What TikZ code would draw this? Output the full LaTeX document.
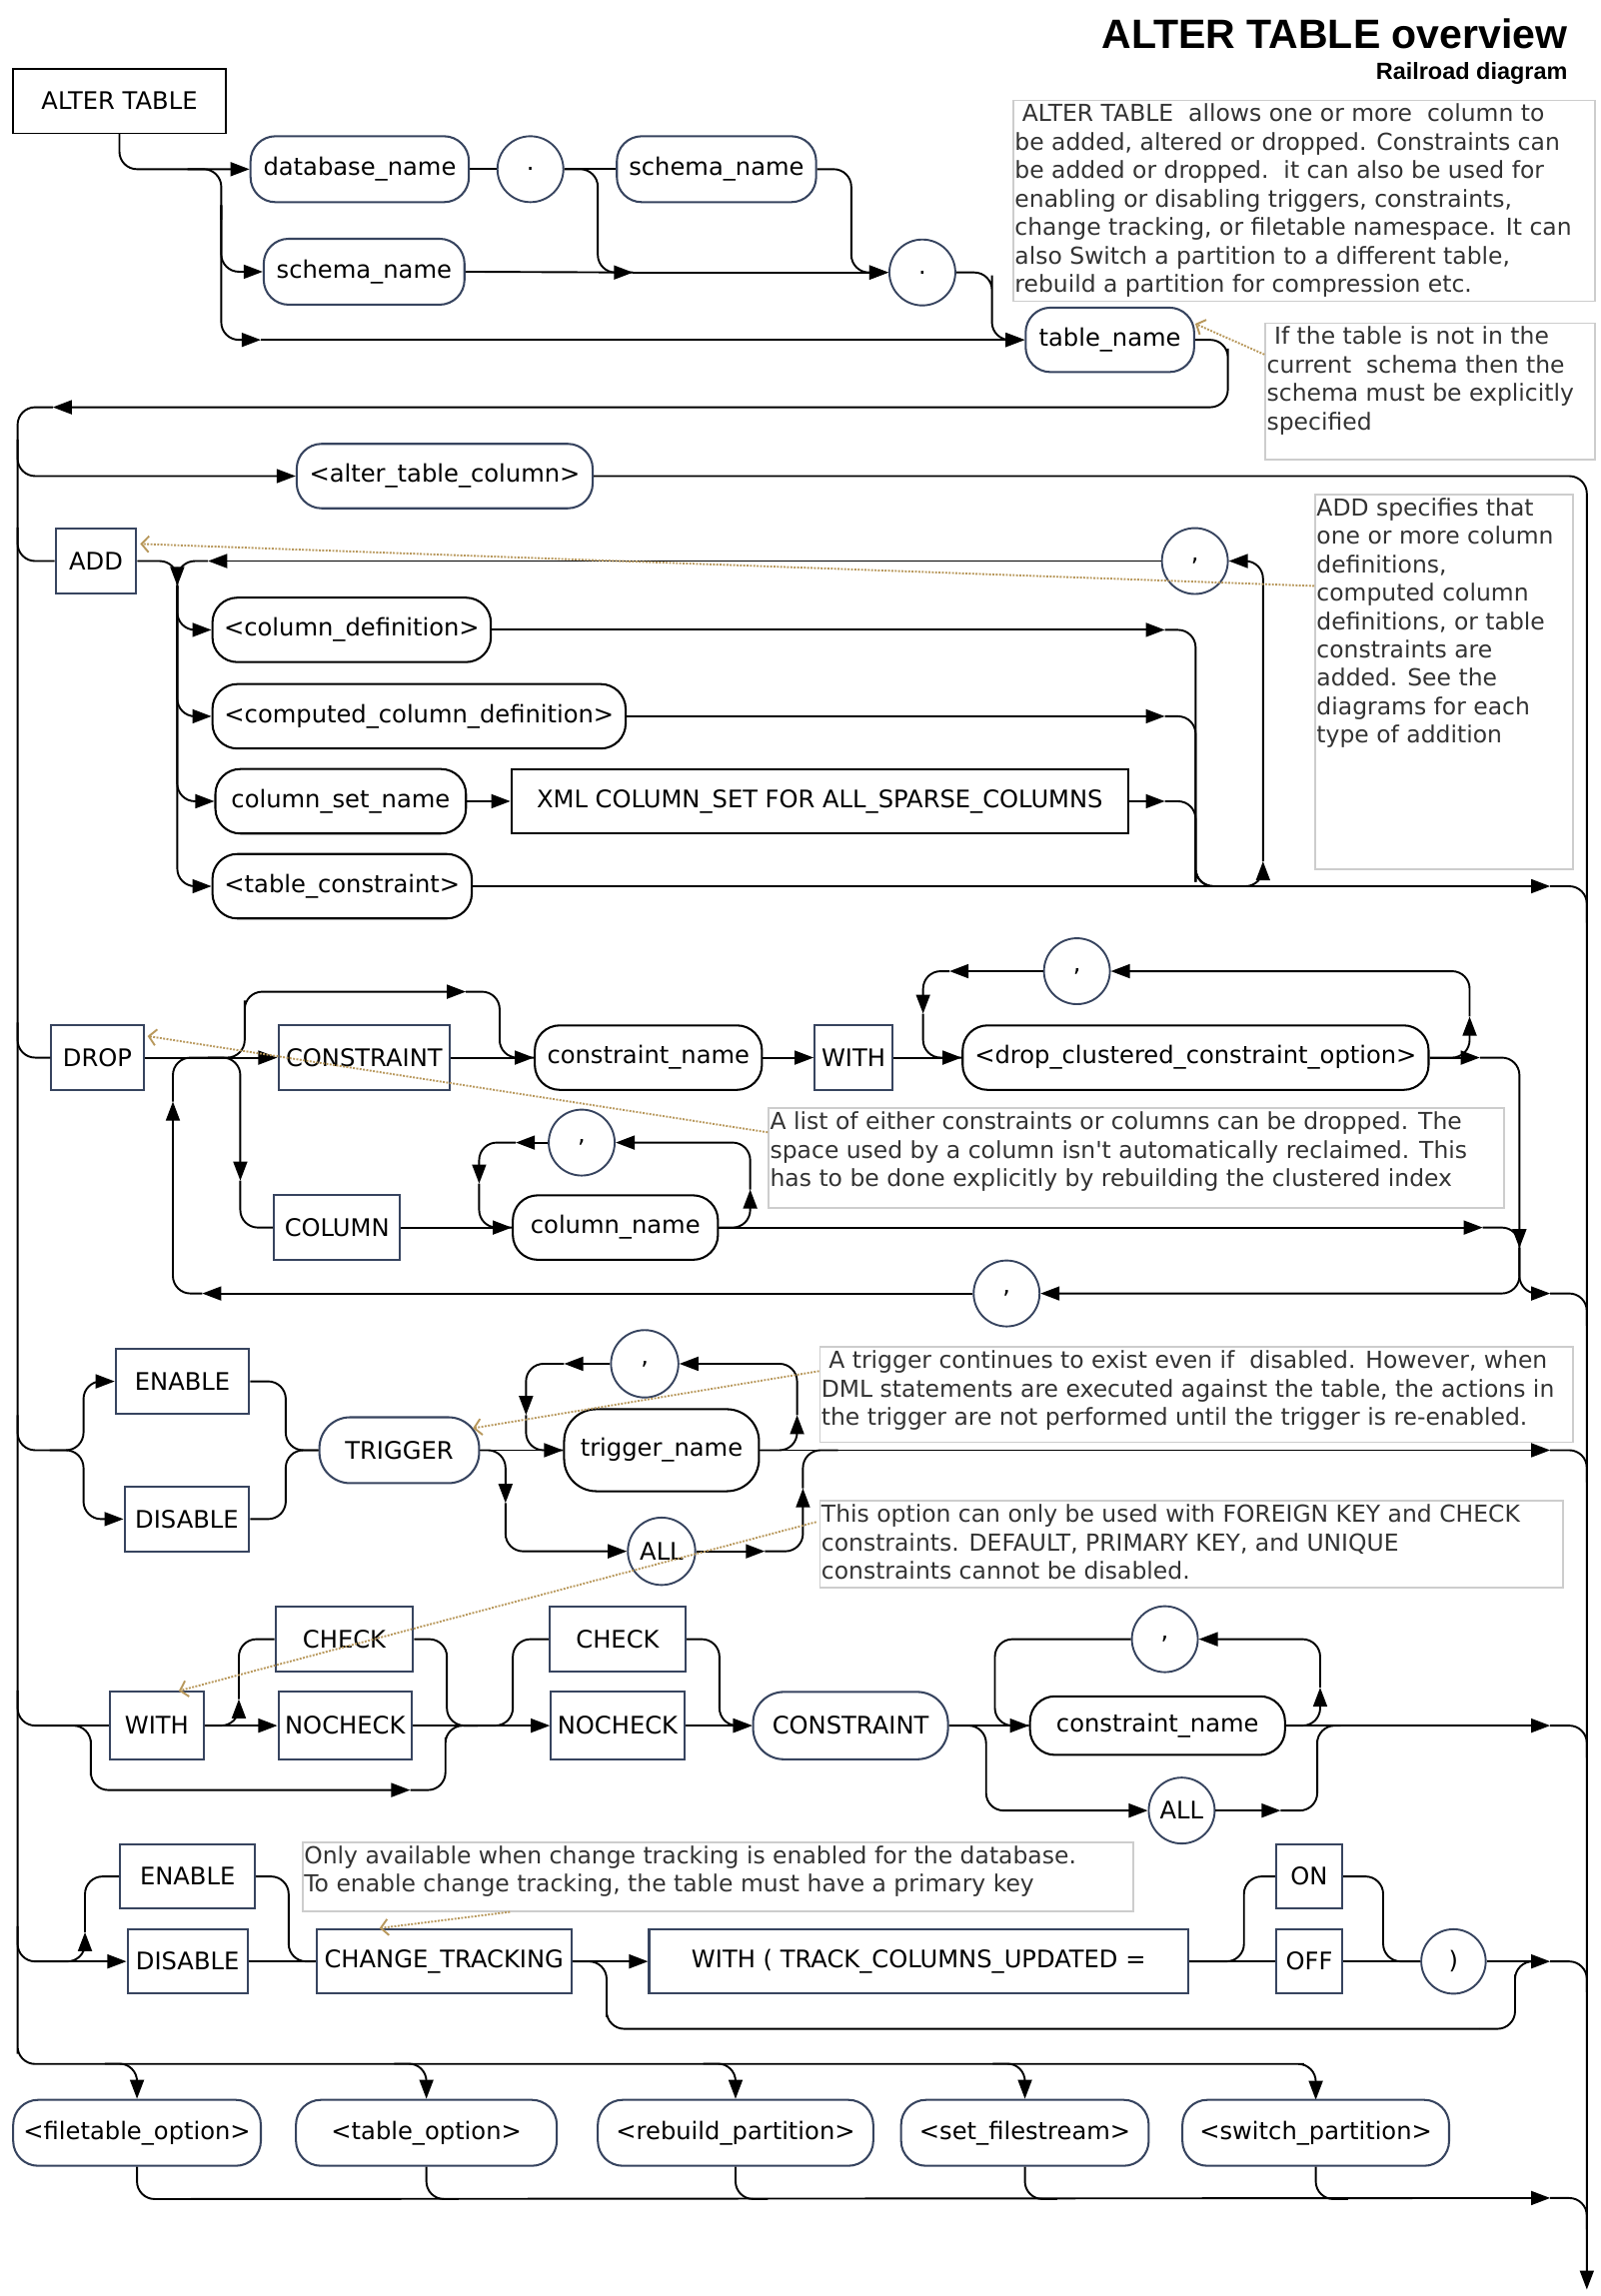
\documentclass[tikz,border=0pt]{standalone}
\usepackage{fontspec}
\setmainfont{DejaVu Sans}
\newfontfamily\headfont{Liberation Sans}
\newfontfamily\notefont{DejaVu Sans}
\usetikzlibrary{arrows.meta,calc}
\definecolor{slate}{RGB}{55,68,95}
\definecolor{notegray}{RGB}{205,205,205}
\definecolor{pointertan}{RGB}{184,152,92}
\newcommand{\notetext}[3]{\parbox[t][#2][t]{#1}{\notefont\fontsize{16}{19.4}\selectfont\begin{tabular}[t]{@{}l@{}}#3\end{tabular}}}

\begin{document}
\begin{tikzpicture}[x=1pt,y=-1pt,
    every node/.style={font=\fontsize{16.5}{19}\selectfont, text=black},
    kw/.style={draw=slate, line width=1.4pt, rectangle, minimum height=44pt, inner sep=2pt},
    ref/.style={kw, rounded corners=17pt},
    punct/.style={draw=slate, line width=1.3pt, circle, minimum size=45pt, inner sep=0pt},
    rail/.style={line width=1.3pt, rounded corners=12pt},
    flow/.style={rail, -{Triangle[length=13pt,width=9.5pt]}},
    note/.style={draw=notegray, line width=1.2pt, anchor=north west, inner sep=1pt, text=black!80},
    pointer/.style={draw=pointertan, densely dotted, line width=1.3pt, -{Straight Barb[length=5pt,width=11pt]}}]

    \useasboundingbox (0,0) rectangle (1092,1567.4);

    \node[anchor=base east, inner sep=0pt, font=\headfont\bfseries\fontsize{28}{32}\selectfont] (title) at (1070,33) {ALTER TABLE overview};
    \node[anchor=base east, inner sep=0pt, font=\headfont\bfseries\fontsize{16}{19}\selectfont] (subtitle) at (1070,54) {Railroad diagram};

    % table name
    \node[kw, draw=black, line width=1pt, minimum width=145pt] (alter) at (81.5,69) {ALTER TABLE};
    \node[ref, minimum width=149pt, minimum height=45pt] (dbname) at (245.5,115.5) {database\_name};
    \node[punct] (dotA) at (362,115.5) {.};
    \node[ref, minimum width=136pt, minimum height=45pt] (schemaA) at (489,115.5) {schema\_name};
    \node[ref, minimum width=137pt, minimum height=45pt] (schemaB) at (248.5,185.5) {schema\_name};
    \node[punct] (dotB) at (629.5,186) {.};
    \node[ref, minimum width=115pt] (tblname) at (757.5,232) {table\_name};

    \draw[flow] (alter.south) |- (dbname.west);
    \draw[rail] (128,115.5) -| (151,150);
    \draw[flow] (151,140) |- (schemaB.west);
    \draw[flow] (151,140) |- (178,232);
    \draw[flow] (178,232) -- (tblname.west);
    \draw[rail] (dbname.east) -- (dotA.west);
    \draw[rail] (dotA.east) -- (schemaA.west);
    \draw[flow] (dotA.east) -| (408,150) |- (432,186);
    \draw[rail] (schemaB.east) -- (432,186);
    \draw[flow] (432,186) -- (dotB.west);
    \draw[flow] (schemaA.east) -| (581,150) |- (dotB.west);
    \draw[flow] (dotB.east) -| (677,200) |- (tblname.west);
    \draw[flow] (tblname.east) -| (838,250) |- (36,278);

    % the two rails
    \draw[flow] (36,278) -| (12,1390) |- (878,1409) -| (898,1433.5);
    \node[ref, minimum width=202pt] (atc) at (303.5,325) {<alter\_table\_column>};
    \draw[flow] (12,300) |- (atc.west);
    \draw[flow] (atc.east) -| (1083,1563);

    % ADD
    \node[kw, minimum width=55pt] (add) at (65.5,383) {ADD};
    \node[punct] (comma1) at (815.5,383) {,};
    \node[ref, draw=black, minimum width=190pt] (coldef) at (240,430) {<column\_definition>};
    \node[ref, draw=black, minimum width=282pt] (compdef) at (286,489) {<computed\_column\_definition>};
    \node[ref, draw=black, minimum width=171pt] (colset) at (232.5,547) {column\_set\_name};
    \node[kw, draw=black, minimum width=421pt] (xmlset) at (559.5,547) {XML COLUMN\_SET FOR ALL\_SPARSE\_COLUMNS};
    \node[ref, draw=black, minimum width=177pt] (tblcon) at (233.5,605) {<table\_constraint>};

    \draw[rail] (12,360) |- (add.west);
    \draw[rail] (add.east) -| (121,402);
    \draw[flow] (comma1.west) -- (142,383);
    \draw[flow] (142,383) -| (121,400);
    \foreach \n in {coldef,compdef,colset,tblcon}
        \draw[flow] (121,400) |- (\n.west);
    \draw[flow] (colset.east) -- (xmlset.west);
    \foreach \n/\y in {coldef/430,compdef/489,xmlset/547} {
        \draw[flow] (\n.east) -- (795,\y);
        \draw[rail] (795,\y) -| (816,590) |- (840,605);
    }
    \draw[flow] (840,605) -| (862,588);
    \draw[flow] (862,588) |- (comma1.east);
    \draw[flow] (tblcon.east) -- (1058,605);
    \draw[rail] (1058,605) -| (1083,630);

    % DROP
    \node[kw, minimum width=63pt] (drop) at (66.5,722) {DROP};
    \node[kw, minimum width=117pt] (constrA) at (248.5,722) {CONSTRAINT};
    \node[ref, draw=black, minimum width=155pt] (cnameA) at (442.5,722) {constraint\_name};
    \node[kw, minimum width=53pt] (withA) at (582.5,722) {WITH};
    \node[ref, draw=black, minimum width=318pt] (dcco) at (816,722) {<drop\_clustered\_constraint\_option>};
    \node[punct] (commaA) at (735,663) {,};
    \node[kw, minimum width=86pt] (colA) at (230,838) {COLUMN};
    \node[ref, draw=black, minimum width=140pt] (colname) at (420,838) {column\_name};
    \node[punct] (commaB) at (397,780) {,};
    \node[punct] (commaC) at (687,883) {,};

    \draw[rail] (12,698) |- (drop.west);
    \draw[flow] (drop.east) -- (constrA.west);
    \draw[flow] (142,722) -| (167,695) |- (318,677);
    \draw[rail] (318,677) -| (341,700) |- (cnameA.west);
    \draw[flow] (constrA.east) -- (cnameA.west);
    \draw[flow] (cnameA.east) -- (withA.west);
    \draw[flow] (withA.east) -- (dcco.west);
    \draw[flow] (dcco.east) -| (1003,694);
    \draw[flow] (1003,694) |- (commaA.east);
    \draw[flow] (commaA.west) -- (648,663);
    \draw[flow] (648,663) -| (630,692);
    \draw[rail] (630,692) |- (dcco.west);
    \draw[flow] (dcco.east) -- (1010,722);
    \draw[flow] (1010,722) -| (1037,852);
    \draw[flow] (1037,852) |- (1058,883);
    \draw[rail] (1058,883) -| (1083,905);
    \draw[flow] (1037,852) |- (commaC.east);
    \draw[flow] (commaC.west) -- (138,883);
    \draw[flow] (138,883) -| (118,752);
    \draw[rail] (118,752) |- (142,722);
    \draw[flow] (142,722) -| (164,806);
    \draw[rail] (164,806) |- (colA.west);
    \draw[flow] (colA.east) -- (colname.west);
    \draw[flow] (colname.east) -| (512,812);
    \draw[flow] (512,812) |- (commaB.east);
    \draw[flow] (commaB.west) -- (352,780);
    \draw[flow] (352,780) -| (327,808);
    \draw[rail] (327,808) |- (colname.west);
    \draw[flow] (colname.east) -- (1012,838);
    \draw[rail] (1012,838) -| (1037,852);

    % ENABLE / DISABLE TRIGGER
    \node[kw, minimum width=91pt] (enableA) at (124.5,943) {ENABLE};
    \node[kw, minimum width=85pt] (disableA) at (127.5,1037) {DISABLE};
    \node[ref, minimum width=109pt, minimum height=45pt, rounded corners=21pt] (trigger) at (272.5,990) {TRIGGER};
    \node[ref, draw=black, minimum width=133pt, minimum height=56pt, rounded corners=22pt] (tname) at (451.5,990) {trigger\_name};
    \node[punct, minimum size=46pt] (commaD) at (440,931) {,};
    \node[punct, minimum size=46pt] (allA) at (451.5,1059) {ALL};

    \draw[rail] (12,966) |- (34,990);
    \draw[flow] (34,990) -| (57,966) |- (enableA.west);
    \draw[flow] (34,990) -| (57,1014) |- (disableA.west);
    \draw[rail] (enableA.east) -| (195,966) |- (trigger.west);
    \draw[rail] (disableA.east) -| (195,1014) |- (trigger.west);
    \draw[flow] (trigger.east) -- (tname.west);
    \draw[flow] (tname.east) -| (544,966);
    \draw[flow] (544,966) |- (commaD.east);
    \draw[flow] (commaD.west) -- (385,931);
    \draw[flow] (385,931) -| (359,966);
    \draw[rail] (359,966) |- (tname.west);
    \draw[flow] (trigger.east) -| (345,1026);
    \draw[flow] (345,1026) |- (allA.west);
    \draw[flow] (allA.east) -- (522,1059);
    \draw[flow] (522,1059) -| (548,1016);
    \draw[rail] (548,1016) |- (572,990);
    \draw[flow] (tname.east) -- (1058,990);
    \draw[rail] (1058,990) -| (1083,1012);

    % WITH CHECK / NOCHECK
    \node[kw, minimum width=64pt, minimum height=46pt] (withB) at (107,1178) {WITH};
    \node[kw, minimum width=94pt] (checkA) at (235,1119) {CHECK};
    \node[kw, minimum width=91pt, minimum height=46pt] (nocheckA) at (235.5,1178) {NOCHECK};
    \node[kw, minimum width=93pt] (checkB) at (421.5,1119) {CHECK};
    \node[kw, minimum width=91pt, minimum height=46pt] (nocheckB) at (421.5,1178) {NOCHECK};
    \node[ref, minimum width=133pt, minimum height=46pt, rounded corners=21pt] (constrB) at (580.5,1178) {CONSTRAINT};
    \node[ref, draw=black, minimum width=174pt, minimum height=40pt] (cnameB) at (790,1178) {constraint\_name};
    \node[punct] (commaE) at (795,1119) {,};
    \node[punct] (allB) at (806.5,1236) {ALL};

    \draw[rail] (12,1154) |- (32,1178);
    \draw[rail] (32,1178) -- (withB.west);
    \draw[flow] (32,1178) -| (62,1200) |- (280,1222);
    \draw[rail] (280,1222) -| (304,1198) |- (326,1178);
    \draw[flow] (withB.east) -- (nocheckA.west);
    \draw[flow] (withB.east) -| (163,1160);
    \draw[rail] (163,1160) |- (checkA.west);
    \draw[rail] (checkA.east) -| (305,1150) |- (326,1178);
    \draw[rail] (nocheckA.east) -- (326,1178);
    \draw[flow] (326,1178) -- (nocheckB.west);
    \draw[rail] (326,1178) -| (350,1150) |- (checkB.west);
    \draw[flow] (checkB.east) -| (491,1150) |- (constrB.west);
    \draw[flow] (nocheckB.east) -- (constrB.west);
    \draw[flow] (constrB.east) -- (cnameB.west);
    \draw[flow] (cnameB.east) -| (901,1152);
    \draw[flow] (901,1152) |- (commaE.east);
    \draw[rail] (commaE.west) -| (679,1150) |- (cnameB.west);
    \draw[flow] (constrB.east) -| (673,1210) |- (allB.west);
    \draw[flow] (allB.east) -- (874,1236);
    \draw[rail] (874,1236) -| (899,1200) |- (915,1178);
    \draw[flow] (cnameB.east) -- (1058,1178);
    \draw[rail] (1058,1178) -| (1083,1200);

    % ENABLE / DISABLE CHANGE_TRACKING
    \node[kw, minimum width=92pt] (enableB) at (128,1281) {ENABLE};
    \node[kw, minimum width=82pt] (disableB) at (128,1339) {DISABLE};
    \node[kw, minimum width=174pt] (ctrack) at (303,1339) {CHANGE\_TRACKING};
    \node[kw, minimum width=368pt] (trackcols) at (627,1339) {WITH ( TRACK\_COLUMNS\_UPDATED =};
    \node[kw, minimum width=45pt] (onA) at (893.5,1281) {ON};
    \node[kw, minimum width=45pt] (offA) at (893.5,1339) {OFF};
    \node[punct, minimum size=44pt] (rparen) at (992,1339) {)};

    \draw[rail] (12,1315) |- (35,1339);
    \draw[flow] (35,1339) -- (disableB.west);
    \draw[flow] (35,1339) -| (58,1319);
    \draw[rail] (58,1319) |- (enableB.west);
    \draw[rail] (enableB.east) -| (197,1310) |- (ctrack.west);
    \draw[rail] (disableB.east) -- (ctrack.west);
    \draw[flow] (ctrack.east) -- (trackcols.west);
    \draw[rail] (ctrack.east) -| (414,1365) |- (1010,1385);
    \draw[rail] (1010,1385) -| (1034,1360) |- (1050,1339);
    \draw[rail] (trackcols.east) -- (offA.west);
    \draw[rail] (trackcols.east) -| (849,1310) |- (onA.west);
    \draw[rail] (onA.east) -| (944,1310) |- (rparen.west);
    \draw[rail] (offA.east) -- (rparen.west);
    \draw[flow] (rparen.east) -- (1058,1339);
    \draw[rail] (1058,1339) -| (1083,1360);

    % options
    \node[ref, minimum width=169pt, minimum height=45pt] (fto) at (93.5,1456) {<filetable\_option>};
    \node[ref, minimum width=178pt, minimum height=45pt] (tbo) at (291,1456) {<table\_option>};
    \node[ref, minimum width=188pt, minimum height=45pt] (rbp) at (502,1456) {<rebuild\_partition>};
    \node[ref, minimum width=169pt, minimum height=45pt] (sfs) at (699.5,1456) {<set\_filestream>};
    \node[ref, minimum width=182pt, minimum height=45pt] (swp) at (898,1456) {<switch\_partition>};

    \foreach \n in {fto,tbo,rbp,sfs}
        \draw[flow] ($(\n.north)+(-22,-24)$) -| (\n.north);
    \foreach \n in {fto,tbo,rbp,sfs,swp}
        \draw[rail] (\n.south) |- ($(\n.south)+(22,22)$);
    \draw[flow] ($(fto.south)+(20,22)$) -- (1058,1500.5);
    \draw[rail] (1058,1500.5) -| (1083,1522);

    % notes
    \node[note] (noteAlter) at (691,68) {\notetext{395pt}{135pt}{\ ALTER TABLE\ \ allows one or more\ \ column to\\be added, altered or dropped. Constraints can\\be added or dropped.\ \ it can also be used for\\enabling or disabling triggers, constraints,\\change tracking, or filetable namespace. It can\\also Switch a partition to a different table,\\rebuild a partition for compression etc.}};
    \node[note] (noteTbl) at (863,220) {\notetext{223pt}{91pt}{\ If the table is not in the\\current\ \ schema then the\\schema must be explicitly\\specified}};
    \node[note] (noteAdd) at (897,337) {\notetext{174pt}{254pt}{ADD specifies that\\one or more column\\definitions,\\computed column\\definitions, or table\\constraints are\\added. See the\\diagrams for each\\type of addition}};
    \node[note] (noteDrop) at (524,756) {\notetext{500pt}{66pt}{A list of either constraints or columns can be dropped. The\\space used by a column isn't automatically reclaimed. This\\has to be done explicitly by rebuilding the clustered index}};
    \node[note] (noteTrig) at (559,919) {\notetext{512pt}{63pt}{\ A trigger continues to exist even if\ \ disabled. However, when\\DML statements are executed against the table, the actions in\\the trigger are not performed until the trigger is re-enabled.}};
    \node[note] (noteAll) at (559,1024) {\notetext{505pt}{57pt}{This option can only be used with FOREIGN KEY and CHECK\\constraints. DEFAULT, PRIMARY KEY, and UNIQUE\\constraints cannot be disabled.}};
    \node[note] (noteCT) at (206,1257) {\notetext{565pt}{45pt}{Only available when change tracking is enabled for the database.\\To enable change tracking, the table must have a primary key}};

    \draw[pointer] ($(noteTbl.north west)+(0,22)$) -- ($(tblname.east)+(0,-11)$);
    \draw[pointer] ($(noteAdd.north west)+(0,63)$) -- ($(add.north east)+(2,11)$);
    \draw[pointer] ($(noteDrop.north west)+(0,17)$) -- ($(drop.north east)+(2,8)$);
    \draw[pointer] ($(noteTrig.north west)+(0,17)$) -- ($(trigger.east)+(-5,-15)$);
    \draw[pointer] ($(noteAll.north west)+(-2,15)$) -- ($(withB.north)+(15,0)$);
    \draw[pointer] ($(noteCT.south west)+(142,0)$) -- ($(ctrack.north)+(-44,0)$);
\end{tikzpicture}
\end{document}
